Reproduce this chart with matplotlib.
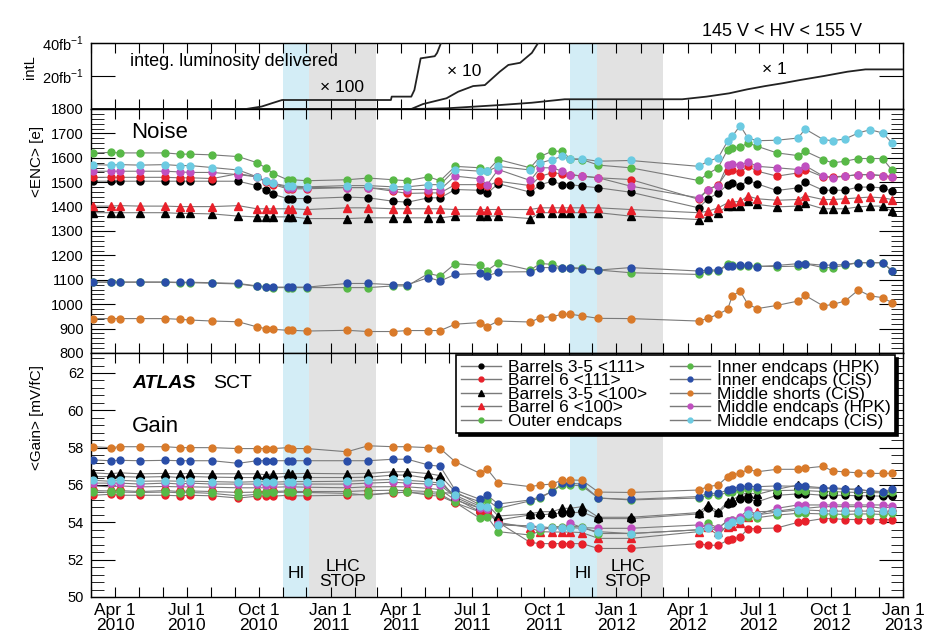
import pandas as pd
import matplotlib
matplotlib.use('Agg')
import matplotlib.pyplot as plt
import matplotlib.dates as mdates
import matplotlib.ticker as ticker
from matplotlib.lines import Line2D

plt.rcParams['font.family'] = ['Liberation Sans', 'DejaVu Sans']
plt.rcParams['mathtext.fontset'] = 'custom'
plt.rcParams['mathtext.rm'] = 'Liberation Sans'

# measurement dates (shared by noise and gain)
dates = pd.to_datetime([
    '2010-03-04', '2010-03-26', '2010-04-07', '2010-05-03', '2010-06-04', '2010-06-23',
    '2010-07-06', '2010-08-03', '2010-09-05', '2010-09-29', '2010-10-10', '2010-10-20',
    '2010-11-07', '2010-11-13', '2010-12-02',
    '2011-01-22', '2011-02-18', '2011-03-22', '2011-04-09', '2011-05-06', '2011-05-21',
    '2011-06-09', '2011-07-11', '2011-07-20', '2011-08-03', '2011-09-13', '2011-09-26',
    '2011-10-11', '2011-10-24', '2011-11-03', '2011-11-18', '2011-12-09',
    '2012-01-19', '2012-04-15', '2012-04-27', '2012-05-10', '2012-05-22', '2012-05-28',
    '2012-06-07', '2012-06-17', '2012-06-29', '2012-07-24', '2012-08-20', '2012-08-29',
    '2012-09-21', '2012-10-03', '2012-10-19', '2012-11-05', '2012-11-20', '2012-12-06',
    '2012-12-18'])

# noise <ENC> [e]
noise_b35_111 = [1504, 1504, 1504, 1504, 1504, 1504, 1504, 1504, 1504, 1486, 1467, 1450, 1433, 1433, 1433,
                 1439, 1436, 1422, 1418, 1436, 1436, 1470, 1467, 1454, 1494, 1459, 1490, 1504, 1490, 1490, 1484, 1477,
                 1459, 1395, 1432, 1456, 1490, 1495, 1484, 1508, 1493, 1466, 1477, 1500, 1467, 1467, 1467, 1480, 1480, 1477, 1463]
noise_b6_111 = [1520, 1520, 1520, 1520, 1520, 1518, 1518, 1515, 1535, 1522, 1500, 1490, 1473, 1473, 1473,
                1478, 1478, 1463, 1454, 1456, 1456, 1490, 1490, 1484, 1504, 1486, 1525, 1538, 1535, 1531, 1525, 1518,
                1511, 1430, 1470, 1490, 1545, 1548, 1541, 1565, 1545, 1525, 1538, 1552, 1522, 1522, 1525, 1531, 1531, 1527, 1522]
noise_b35_100 = [1375, 1375, 1375, 1375, 1375, 1372, 1372, 1370, 1361, 1358, 1358, 1358, 1358, 1358, 1351,
                 1351, 1354, 1354, 1354, 1354, 1354, 1361, 1361, 1361, 1361, 1351, 1375, 1375, 1375, 1375, 1375, 1375,
                 1361, 1347, 1358, 1375, 1402, 1404, 1404, 1422, 1409, 1399, 1402, 1413, 1391, 1391, 1391, 1399, 1402, 1402, 1381]
noise_b6_100 = [1402, 1402, 1404, 1402, 1402, 1400, 1400, 1400, 1404, 1391, 1391, 1391, 1391, 1391, 1388,
                1395, 1395, 1391, 1391, 1391, 1391, 1388, 1388, 1388, 1388, 1388, 1395, 1395, 1395, 1395, 1395, 1395,
                1388, 1375, 1381, 1395, 1415, 1418, 1422, 1443, 1432, 1426, 1429, 1445, 1429, 1429, 1432, 1436, 1439, 1436, 1429]
noise_outer = [1620, 1622, 1620, 1620, 1620, 1615, 1615, 1612, 1605, 1580, 1559, 1535, 1510, 1510, 1506,
               1510, 1517, 1510, 1506, 1522, 1506, 1565, 1559, 1545, 1593, 1559, 1606, 1627, 1627, 1595, 1593, 1570,
               1559, 1507, 1535, 1559, 1634, 1640, 1643, 1661, 1647, 1620, 1609, 1627, 1593, 1579, 1586, 1597, 1597, 1597, 1549]
noise_inner_hpk = [1090, 1090, 1090, 1090, 1090, 1088, 1088, 1086, 1083, 1073, 1070, 1068, 1068, 1068, 1068,
                   1068, 1068, 1075, 1075, 1126, 1115, 1166, 1159, 1138, 1170, 1140, 1167, 1163, 1150, 1150, 1148, 1140,
                   1129, 1122, 1136, 1136, 1166, 1162, 1156, 1156, 1156, 1154, 1156, 1166, 1150, 1150, 1160, 1170, 1170, 1170, 1138]
noise_inner_cis = [1091, 1091, 1091, 1091, 1091, 1090, 1090, 1088, 1085, 1075, 1072, 1070, 1070, 1070, 1070,
                   1085, 1085, 1080, 1080, 1109, 1095, 1122, 1126, 1115, 1132, 1133, 1150, 1150, 1147, 1147, 1145, 1140,
                   1150, 1136, 1140, 1140, 1156, 1158, 1159, 1159, 1154, 1159, 1166, 1166, 1160, 1160, 1163, 1170, 1170, 1170, 1136]
noise_mid_short = [941, 941, 941, 941, 941, 938, 935, 931, 928, 907, 900, 897, 893, 893, 890,
                   893, 888, 888, 892, 892, 892, 918, 925, 908, 931, 927, 945, 949, 959, 959, 952, 942,
                   941, 931, 942, 959, 979, 1034, 1054, 999, 982, 995, 1013, 1036, 993, 999, 1013, 1058, 1034, 1027, 1006]
noise_mid_hpk = [1545, 1545, 1545, 1545, 1545, 1542, 1540, 1540, 1531, 1522, 1504, 1495, 1478, 1478, 1478,
                 1478, 1478, 1470, 1470, 1470, 1470, 1525, 1514, 1490, 1552, 1507, 1559, 1559, 1545, 1531, 1525, 1518,
                 1484, 1436, 1470, 1486, 1572, 1575, 1570, 1583, 1565, 1559, 1552, 1568, 1525, 1518, 1525, 1531, 1531, 1527, 1522]
noise_mid_cis = [1572, 1570, 1572, 1570, 1572, 1568, 1568, 1560, 1550, 1522, 1504, 1495, 1484, 1484, 1481,
                 1486, 1486, 1481, 1481, 1490, 1490, 1552, 1545, 1545, 1565, 1550, 1579, 1593, 1606, 1595, 1595, 1586,
                 1589, 1565, 1586, 1600, 1668, 1688, 1732, 1681, 1670, 1672, 1681, 1718, 1675, 1670, 1677, 1702, 1715, 1702, 1661]

# gain [mV/fC]
gain_b35_111 = [56.45, 56.45, 56.45, 56.42, 56.45, 56.40, 56.45, 56.42, 56.40, 56.40, 56.38, 56.40, 56.45, 56.42, 56.40,
                56.40, 56.42, 56.53, 56.53, 56.36, 56.30, 55.27, 54.57, 54.60, 54.12, 54.40, 54.40, 54.45, 54.50, 54.50, 54.55, 54.20,
                54.20, 54.45, 54.75, 54.50, 54.98, 55.05, 55.27, 55.27, 55.10, 55.45, 55.52, 55.52, 55.45, 55.45, 55.45, 55.42, 55.42, 55.40, 55.40]
gain_b6_111 = [55.45, 55.50, 55.45, 55.45, 55.45, 55.42, 55.45, 55.42, 55.30, 55.40, 55.42, 55.40, 55.45, 55.42, 55.42,
               55.45, 55.50, 55.55, 55.64, 55.45, 55.40, 55.05, 54.55, 54.50, 54.00, 52.92, 52.86, 52.86, 52.86, 52.86, 52.86, 52.60,
               52.60, 52.86, 52.77, 52.77, 53.04, 53.10, 53.21, 53.66, 53.66, 53.70, 54.00, 54.05, 54.20, 54.20, 54.15, 54.15, 54.15, 54.14, 54.14]
gain_b35_100 = [56.65, 56.60, 56.65, 56.60, 56.62, 56.60, 56.62, 56.60, 56.60, 56.60, 56.55, 56.60, 56.62, 56.60, 56.62,
                56.60, 56.62, 56.71, 56.71, 56.61, 56.50, 55.64, 54.93, 54.95, 54.34, 54.45, 54.57, 54.57, 54.75, 54.75, 54.84, 54.27,
                54.27, 54.52, 54.93, 54.57, 55.11, 55.20, 55.46, 55.59, 55.50, 55.77, 56.00, 55.85, 55.82, 55.80, 55.77, 55.80, 55.65, 55.64, 55.64]
gain_b6_100 = [55.95, 55.90, 55.95, 55.90, 55.92, 55.90, 55.90, 55.88, 55.85, 55.85, 55.85, 55.88, 55.90, 55.90, 55.88,
               55.85, 55.90, 55.91, 55.90, 55.82, 55.75, 55.20, 54.75, 54.70, 54.00, 53.70, 53.50, 53.48, 53.48, 53.48, 53.45, 53.14,
               53.14, 53.50, 53.77, 53.50, 53.77, 53.80, 53.95, 54.30, 54.57, 54.60, 54.75, 54.75, 54.84, 54.84, 54.84, 54.84, 54.84, 54.75, 54.84]
gain_outer = [55.62, 55.60, 55.62, 55.60, 55.62, 55.58, 55.60, 55.55, 55.42, 55.50, 55.55, 55.60, 55.62, 55.60, 55.60,
              55.55, 55.45, 55.60, 55.60, 55.55, 55.50, 55.07, 54.21, 54.30, 53.50, 53.32, 53.55, 53.77, 53.77, 53.77, 53.77, 53.40,
              53.40, 53.60, 53.95, 53.70, 54.09, 54.15, 54.20, 54.30, 54.25, 54.39, 54.48, 54.48, 54.45, 54.45, 54.42, 54.45, 54.45, 54.42, 54.48]
gain_inner_hpk = [55.70, 55.68, 55.70, 55.65, 55.70, 55.65, 55.68, 55.65, 55.60, 55.62, 55.65, 55.65, 55.68, 55.65, 55.65,
                  55.65, 55.70, 55.72, 55.70, 55.65, 55.60, 55.55, 55.10, 55.20, 54.75, 55.15, 55.30, 55.68, 56.00, 56.00, 55.95, 55.30,
                  55.20, 55.30, 55.45, 55.45, 55.60, 55.65, 55.75, 55.80, 55.75, 55.70, 55.72, 55.70, 55.65, 55.65, 55.62, 55.60, 55.60, 55.58, 55.60]
gain_inner_cis = [57.34, 57.30, 57.32, 57.30, 57.32, 57.30, 57.30, 57.30, 57.16, 57.30, 57.30, 57.30, 57.30, 57.30, 57.30,
                  57.30, 57.30, 57.38, 57.38, 57.07, 57.00, 55.73, 55.23, 55.45, 54.98, 55.20, 55.38, 55.64, 56.09, 56.09, 56.05, 55.30,
                  55.23, 55.38, 55.55, 55.55, 55.73, 55.80, 55.91, 55.93, 55.91, 55.95, 55.93, 55.93, 55.85, 55.85, 55.80, 55.72, 55.70, 55.64, 55.77]
gain_mid_short = [58.05, 58.00, 58.05, 58.05, 58.05, 58.00, 58.00, 58.00, 57.95, 57.95, 57.95, 57.95, 58.00, 57.95, 57.95,
                  57.78, 58.10, 58.05, 58.05, 58.00, 57.95, 57.25, 56.62, 56.85, 56.12, 55.91, 56.00, 56.05, 56.27, 56.27, 56.25, 55.62,
                  55.60, 55.73, 55.91, 56.00, 56.45, 56.55, 56.62, 56.84, 56.71, 56.84, 56.84, 56.90, 57.00, 56.75, 56.70, 56.65, 56.62, 56.62, 56.62]
gain_mid_hpk = [56.10, 56.10, 56.10, 56.05, 56.10, 56.05, 56.10, 56.05, 56.05, 56.05, 56.00, 56.05, 56.05, 56.05, 56.05,
                56.05, 56.10, 56.15, 56.10, 56.05, 56.00, 55.35, 54.75, 54.70, 53.90, 53.80, 53.68, 53.68, 53.72, 53.95, 53.72, 53.68,
                53.68, 53.86, 53.75, 53.68, 54.09, 54.15, 54.30, 54.66, 54.40, 54.75, 54.93, 54.93, 54.93, 54.93, 54.93, 54.93, 54.93, 54.93, 54.90]
gain_mid_cis = [56.25, 56.20, 56.25, 56.20, 56.22, 56.20, 56.20, 56.18, 56.15, 56.18, 56.18, 56.15, 56.18, 56.18, 56.18,
                56.20, 56.25, 56.30, 56.25, 56.17, 56.10, 55.45, 54.85, 54.80, 53.86, 53.80, 53.77, 53.70, 53.70, 53.72, 53.68, 53.50,
                53.40, 53.60, 53.70, 53.30, 53.86, 54.00, 54.15, 54.45, 54.40, 54.55, 54.66, 54.66, 54.62, 54.60, 54.60, 54.60, 54.60, 54.58, 54.58]

# integrated luminosity curves (scaled, fb^-1)
lumi100_dates = pd.to_datetime(['2010-03-01', '2010-09-15', '2010-10-05', '2010-10-18', '2010-10-31', '2011-03-19',
                                '2011-03-20', '2011-04-14', '2011-04-18', '2011-04-26', '2011-05-14', '2011-05-17',
                                '2011-05-22', '2011-05-26'])
lumi100_vals = [0, 0, 1.5, 3.5, 5.45, 5.45, 7.5, 7.5, 11.5, 30.7, 32.0, 34.0, 40.0, 48.0]
lumi10_dates = pd.to_datetime(['2010-03-01', '2011-04-14', '2011-04-29', '2011-05-29', '2011-06-13', '2011-07-02',
                               '2011-07-17', '2011-08-05', '2011-08-16', '2011-08-31', '2011-09-15', '2011-09-23',
                               '2011-09-27'])
lumi10_vals = [0, 0, 3.0, 6.5, 10.5, 13.9, 14.5, 22.6, 26.7, 28.0, 34.0, 40.0, 46.0]
lumi1_dates = pd.to_datetime(['2010-03-01', '2011-04-14', '2011-05-29', '2011-08-05', '2011-09-15', '2011-10-27',
                              '2012-03-25', '2012-04-25', '2012-05-24', '2012-06-16', '2012-07-09', '2012-07-31',
                              '2012-08-23', '2012-09-22', '2012-10-22', '2012-11-14', '2013-01-01'])
lumi1_vals = [0, 0, 0.4, 2.4, 3.8, 5.9, 5.9, 7.5, 9.5, 11.9, 13.9, 15.6, 17.6, 20.0, 22.6, 24.0, 24.0]

# heavy-ion runs and LHC stops
hi_periods = [('2010-11-01', '2010-12-05'), ('2011-11-03', '2011-12-07')]
stop_periods = [('2010-12-05', '2011-02-28'), ('2011-12-07', '2012-03-01')]

labels = ["Barrels 3-5 <111>", "Barrel 6 <111>", "Barrels 3-5 <100>", "Barrel 6 <100>", "Outer endcaps",
          "Inner endcaps (HPK)", "Inner endcaps (CiS)", "Middle shorts (CiS)", "Middle endcaps (HPK)",
          "Middle endcaps (CiS)"]
colors = ["#000000", "#e8202a", "#000000", "#e8202a", "#58b947",
          "#58b947", "#2a4ea8", "#d97a2a", "#c04fc0", "#6ccbe2"]
markers = ["o", "o", "^", "^", "o", "o", "o", "o", "o", "o"]
noise_all = [noise_b35_111, noise_b6_111, noise_b35_100, noise_b6_100, noise_outer,
             noise_inner_hpk, noise_inner_cis, noise_mid_short, noise_mid_hpk, noise_mid_cis]
gain_all = [gain_b35_111, gain_b6_111, gain_b35_100, gain_b6_100, gain_outer,
            gain_inner_hpk, gain_inner_cis, gain_mid_short, gain_mid_hpk, gain_mid_cis]

LINE_GRAY = "#7a7a7a"
HI_COL = "#d3edf6"
STOP_COL = "#e2e2e2"
FW, FH = 925, 630


def fpos(x, y):
    return x / FW, 1 - y / FH


def style_axis(ax):
    ax.xaxis.set_major_locator(mdates.MonthLocator(bymonth=[1, 4, 7, 10]))
    ax.xaxis.set_minor_locator(mdates.MonthLocator())
    ax.tick_params(axis='x', which='both', direction='in', top=True, bottom=True,
                   length=7, width=0.8, labelsize=12.5, pad=4)
    ax.tick_params(axis='y', which='major', direction='in', left=True, right=True,
                   length=17, width=0.8, labelsize=10.5, pad=5)
    ax.tick_params(axis='y', which='minor', direction='in', left=True, right=True,
                   length=9, width=0.6)
    for s in ax.spines.values():
        s.set_linewidth(1.0)
    for a, b in hi_periods:
        ax.axvspan(pd.Timestamp(a), pd.Timestamp(b), color=HI_COL, lw=0, zorder=0)
    for a, b in stop_periods:
        ax.axvspan(pd.Timestamp(a), pd.Timestamp(b), color=STOP_COL, lw=0, zorder=0)


fig = plt.figure(figsize=(FW / 100, FH / 100), dpi=100)
L, W = 91 / FW, 812 / FW
ax_l = fig.add_axes([L, 1 - 109 / FH, W, 66 / FH])
ax_n = fig.add_axes([L, 1 - 353 / FH, W, 244 / FH], sharex=ax_l)
ax_g = fig.add_axes([L, 1 - 597 / FH, W, 244 / FH], sharex=ax_l)

for ax in (ax_l, ax_n, ax_g):
    style_axis(ax)
ax_l.set_xlim(pd.Timestamp('2010-03-01'), pd.Timestamp('2013-01-01'))
ax_l.tick_params(labelbottom=False)
ax_n.tick_params(labelbottom=False)
ax_g.xaxis.set_major_formatter(ticker.FuncFormatter(
    lambda x, pos: mdates.num2date(x).strftime('%b 1\n%Y')))
for t in ax_g.get_xticklabels():
    t.set_linespacing(1.0)

# luminosity panel
for d, v in ((lumi100_dates, lumi100_vals), (lumi10_dates, lumi10_vals), (lumi1_dates, lumi1_vals)):
    ax_l.plot(d, v, color="#222222", lw=1.3, zorder=3)
ax_l.set_ylim(0, 40)
ax_l.set_yticks([0, 20, 40])
ax_l.set_yticklabels(['', r'20fb$^{-1}$', r'40fb$^{-1}$'])

# noise & gain panels
for ax, vals in ((ax_n, noise_all), (ax_g, gain_all)):
    for v in vals:
        ax.plot(dates, v, color=LINE_GRAY, lw=0.8, zorder=2)
    for col, mk, v in zip(colors, markers, vals):
        ax.plot(dates, v, ls='none', marker=mk, ms=6 if mk == '^' else 5,
                mfc=col, mec=col, zorder=3)

ax_n.set_ylim(800, 1800)
ax_n.yaxis.set_major_locator(ticker.MultipleLocator(100))
ax_n.yaxis.set_minor_locator(ticker.AutoMinorLocator(5))
ax_g.set_ylim(50, 63.07)
ax_g.yaxis.set_major_locator(ticker.MultipleLocator(2))
ax_g.yaxis.set_minor_locator(ticker.AutoMinorLocator(5))

handles = [Line2D([], [], color=LINE_GRAY, lw=1, marker=mk, ms=3.5 if mk == 'o' else 4.5, mfc=col, mec=col)
           for col, mk in zip(colors, markers)]
leg = ax_g.legend(handles, labels, ncol=2, loc='upper left', mode='expand',
                  bbox_to_anchor=(0.450, 0.64, 0.540, 0.35), borderaxespad=0, fontsize=12.5,
                  labelspacing=-0.1, handlelength=2.3, handletextpad=0.4, borderpad=0.25,
                  columnspacing=1.0, fancybox=False, framealpha=1, edgecolor='black',
                  shadow={'facecolor': 'black', 'edgecolor': 'black', 'alpha': 1})
leg.get_frame().set_linewidth(1.2)
leg.set_zorder(10)

# annotations
fig.text(*fpos(130, 62), "integ. luminosity delivered", fontsize=13, va='center')
fig.text(*fpos(320, 88), "× 100", fontsize=12.5, va='center')
fig.text(*fpos(447, 72), "× 10", fontsize=12.5, va='center')
fig.text(*fpos(762, 70), "× 1", fontsize=12.5, va='center')
fig.text(*fpos(702, 32), "145 V < HV < 155 V", fontsize=13, va='center')
fig.text(*fpos(131, 133), "Noise", fontsize=16, va='center')
fig.text(*fpos(132, 383), "ATLAS", fontsize=14, fontweight='bold', style='italic', va='center')
fig.text(*fpos(213, 383), "SCT", fontsize=14, va='center')
fig.text(*fpos(132, 426), "Gain", fontsize=16, va='center')
for hx, sx in ((296, 343), (583, 628)):
    fig.text(*fpos(hx, 573), "HI", fontsize=12.5, ha='center', va='center')
    fig.text(*fpos(sx, 574), "LHC\nSTOP", fontsize=12.5, ha='center', va='center', linespacing=1.0)

fig.text(*fpos(30, 67), "intL", fontsize=10.5, rotation=90, ha='center', va='center')
fig.text(*fpos(37, 161), "<ENC> [e]", fontsize=11, rotation=90, ha='center', va='center')
fig.text(*fpos(37, 417), "<Gain> [mV/fC]", fontsize=11, rotation=90, ha='center', va='center')

fig.savefig("out.png", dpi=100)
plt.close()
